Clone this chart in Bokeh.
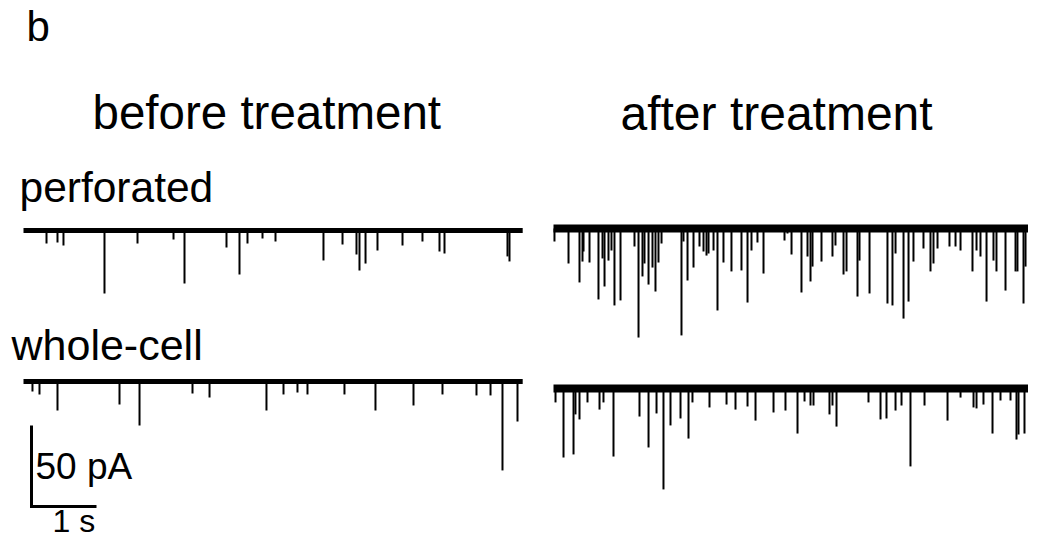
from bokeh.plotting import figure
from bokeh.models import Range1d, ColumnDataSource
from bokeh.core.properties import value
from bokeh.embed import file_html
from bokeh.resources import INLINE

# ---------------- data (event times in s from trace start, amplitudes in pA, inward = downward)
before_perf_t = [0.354, 0.523, 0.615, 1.246, 1.754, 2.308, 2.477, 3.123, 3.323, 3.446, 3.677, 3.877,
                 4.615, 4.908, 5.123, 5.169, 5.262, 5.446, 5.831, 6.138, 6.4, 6.477, 7.446, 7.477]
before_perf_a = [8.0, 7.4, 9.3, 38.9, 8.0, 5.6, 32.7, 10.5, 27.2, 8.0, 4.9, 6.8,
                 18.5, 8.6, 14.8, 24.7, 20.4, 12.3, 9.3, 6.8, 13.0, 14.2, 16.0, 19.1]

after_perf_t = [0.015, 0.231, 0.4, 0.446, 0.462, 0.554, 0.692, 0.754, 0.785, 0.846, 0.892, 0.938,
                1.031, 1.246, 1.308, 1.369, 1.4, 1.462, 1.523, 1.569, 1.615, 1.662, 1.969, 2.0,
                2.062, 2.154, 2.246, 2.308, 2.354, 2.385, 2.462, 2.523, 2.615, 2.738, 2.892, 2.985,
                3.046, 3.138, 3.231, 3.554, 3.6, 3.662, 3.815, 3.908, 3.954, 3.985, 4.123, 4.292,
                4.338, 4.462, 4.508, 4.677, 4.708, 4.862, 5.138, 5.215, 5.262, 5.385, 5.462, 5.538,
                5.692, 5.8, 5.846, 5.908, 6.092, 6.185, 6.262, 6.446, 6.508, 6.569, 6.662, 6.769,
                6.815, 6.954, 7.108, 7.138, 7.231, 7.262]
after_perf_a = [8.0, 21.6, 33.3, 20.4, 14.2, 21.0, 43.8, 18.5, 35.8, 19.8, 13.6, 47.5,
                44.4, 11.1, 67.3, 29.6, 21.6, 34.6, 24.1, 38.9, 21.0, 9.3, 66.0, 8.0,
                32.1, 24.1, 11.1, 14.2, 16.7, 15.4, 13.6, 50.6, 21.0, 26.5, 25.9, 45.7,
                13.6, 8.6, 27.8, 7.4, 3.1, 16.0, 39.5, 17.3, 32.7, 23.5, 20.4, 17.3,
                10.5, 28.4, 26.5, 42.0, 19.8, 40.1, 46.3, 47.5, 15.4, 55.6, 45.1, 20.4,
                12.3, 26.5, 21.6, 12.3, 11.1, 11.1, 13.6, 26.5, 13.6, 17.3, 45.1, 19.8,
                26.5, 38.3, 26.5, 26.5, 46.3, 23.5]

before_wc_t = [0.138, 0.246, 0.523, 1.477, 1.785, 2.6, 2.862, 3.738, 4.0, 4.215, 4.369, 4.938,
               5.415, 6.0, 6.446, 6.969, 7.185, 7.369, 7.6]
before_wc_a = [6.2, 8.0, 17.9, 14.2, 27.2, 7.4, 9.9, 17.9, 8.0, 6.8, 8.0, 8.0,
               17.9, 14.8, 8.0, 8.6, 8.6, 54.9, 24.7]

after_wc_t = [0.031, 0.154, 0.308, 0.338, 0.4, 0.523, 0.708, 0.769, 0.923, 1.323, 1.462, 1.585,
              1.692, 1.8, 1.954, 2.077, 2.138, 2.4, 2.662, 2.8, 2.985, 3.108, 3.385, 3.569,
              3.754, 3.862, 3.954, 4.0, 4.246, 4.292, 4.354, 4.846, 5.031, 5.123, 5.262, 5.354,
              5.492, 5.708, 6.062, 6.262, 6.462, 6.508, 6.615, 6.754, 6.877, 7.031, 7.123, 7.154,
              7.246, 7.323, 7.4, 7.508]
after_wc_a = [8.6, 42.6, 40.7, 16.0, 19.1, 8.6, 13.0, 8.6, 42.0, 17.3, 36.4, 15.4,
              62.3, 22.8, 18.5, 30.9, 8.6, 11.7, 9.9, 13.0, 11.1, 19.8, 14.8, 13.6,
              27.8, 8.0, 10.5, 10.5, 16.0, 10.5, 23.5, 8.6, 19.1, 18.5, 13.6, 10.5,
              48.1, 10.5, 19.8, 5.6, 11.7, 12.3, 9.9, 27.8, 7.4, 7.4, 31.5, 28.4,
              27.8, 5.6, 22.8, 12.3]

durations = [7.68, 7.5, 7.68, 7.55]  # s
scale_time = 1.0   # s
scale_curr = 50.0  # pA

titles = ["before treatment", "after treatment"]
row_labels = ["perforated", "whole-cell"]
panel_label = "b"
scale_labels = ["50 pA", "1 s"]

# ---------------- layout helpers (picture pixels -> data units)
W, H = 1028, 542
PXS = 65.0    # px per second
PXA = 1.62    # px per pA


def X(px):
    return px / PXS


def Y(py):
    return -py / PXA


p = figure(width=W, height=H, x_range=Range1d(0, W / PXS), y_range=Range1d(-H / PXA, 0),
           output_backend="svg", toolbar_location=None, min_border=0)
p.axis.visible = False
p.grid.visible = False
p.outline_line_color = None
p.background_fill_color = "white"
p.border_fill_color = "white"

traces = [
    (before_perf_t, before_perf_a, durations[0], 23, 230, 5),
    (after_perf_t, after_perf_a, durations[1], 553, 228, 8),
    (before_wc_t, before_wc_a, durations[2], 23, 381, 5),
    (after_wc_t, after_wc_a, durations[3], 553, 388, 8),
]

for ts, amps, dur, x0px, y0px, bw in traces:
    x0 = X(x0px)
    y0 = Y(y0px)
    # baseline (noise band)
    p.line([x0, x0 + dur], [y0, y0], line_color="black", line_width=bw)
    src = ColumnDataSource(dict(
        x=[x0 + t for t in ts],
        y0=[y0 for _ in ts],
        y1=[y0 - a for a in amps],
    ))
    p.segment(x0="x", y0="y0", x1="x", y1="y1", source=src, line_color="black", line_width=2)

# scale bar
sx = X(31)
stop = Y(425)
p.line([sx, sx, sx + scale_time], [stop, stop - scale_curr, stop - scale_curr],
       line_color="black", line_width=3, line_join="miter")

FONT = value("Liberation Sans")


def txt(s, xpx, ypx, size):
    # ypx is the wanted visual baseline; the renderer draws ~0.4 em lower
    p.text(x=[X(xpx)], y=[Y(ypx - 0.4 * size)], text=[s], text_font=FONT,
           text_font_size=f"{size}px", text_color="black", text_align="left",
           text_baseline="alphabetic")


txt(panel_label, 26, 43, 42)
txt(titles[0], 92, 131, 47.5)
txt(titles[1], 620, 132, 48)
txt(row_labels[0], 19, 204, 42.5)
txt(row_labels[1], 11, 362, 43)
txt(scale_labels[0], 35, 481, 37)
txt(scale_labels[1], 52, 533, 32)

open("out.html", "w").write(file_html(p, INLINE))
